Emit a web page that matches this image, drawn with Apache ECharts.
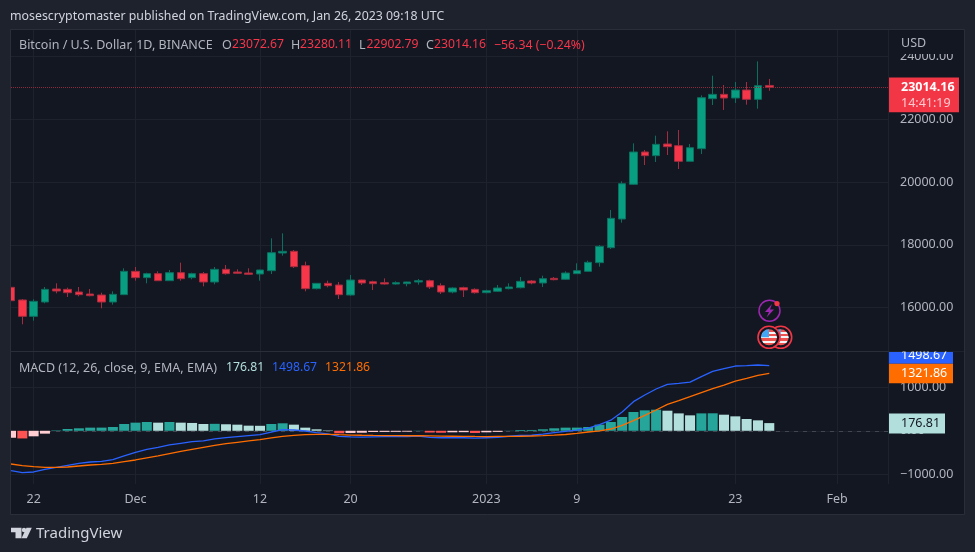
<!DOCTYPE html>
<html>
<head>
<meta charset="utf-8">
<style>
  html, body { margin: 0; padding: 0; background: #1e222d; }
  #chart { width: 975px; height: 552px; }
</style>
<script src="https://cdn.jsdelivr.net/npm/echarts@6/dist/echarts.min.js"></script>
</head>
<body>
<div id="chart"></div>
<script>
// one row per month: Nov 20-30, Dec 1-31, Jan 1-26
const opens = [
  16648,16245,15725,16181,16595,16584,16500,16436,16404,16181,16415,
  17157,16956,17083,16860,17115,16956,17083,16818,17221,17136,17104,17072,17178,17741,17794,17338,16606,16775,16722,16404,16881,16828,16797,16754,16765,16818,16860,16701,16500,16637,16584,
  16478,16521,16606,16637,16850,16786,16934,16903,17083,17157,17433,17910,18822,19926,20955,20838,21209,21156,20658,21061,22652,22789,22673,22927,22630,23072.67];
const closes = [
  16224,15725,16203,16584,16531,16478,16415,16383,16181,16425,17157,
  16956,17083,16860,17115,16924,17083,16818,17221,17083,17094,17062,17200,17751,17794,17306,16606,16775,16701,16415,16881,16786,16765,16754,16797,16818,16860,16659,16500,16627,16563,16478,
  16542,16627,16659,16839,16786,16924,16892,17104,17178,17444,17953,18844,19947,20955,20838,21199,21124,20658,21092,22684,22789,22673,22927,22630,23065,23014.16];
const highs = [
  16701,16277,16266,16659,16775,16637,16659,16595,16478,16521,17253,
  17295,17114,17157,17200,17433,17114,17136,17295,17359,17221,17253,17210,18207,18366,17836,17465,16785,16860,16818,17041,16892,16860,16934,16839,16825,16913,16892,16775,16648,16669,16616,
  16574,16722,16775,16977,16881,17019,16977,17157,17412,17497,17995,19109,20021,21230,21018,21474,21612,21654,21209,22757,23383,23086,23182,23182,23839,23280.11];
const lows = [
  16128,15471,15587,16139,16457,16340,16362,16362,15980,16097,16400,
  16860,16775,16850,16850,16860,16903,16680,16744,17051,17072,17051,16860,17072,17656,17263,16521,16584,16648,16277,16383,16722,16563,16733,16733,16680,16733,16595,16436,16457,16340,16447,
  16457,16500,16584,16616,16744,16659,16871,16881,17075,17136,17306,17868,18706,19904,20541,20636,20859,20414,20650,20891,22450,22292,22514,22461,22333,22902.79];
const histogram = [
  -160,-176,-127,-66,10,41,57,72,73,87,156,
  187,202,187,202,187,180,156,160,150,141,118,115,156,172,141,72,34,10,-58,-50,-45,-28,-26,-24,-20,5,-40,-45,-35,-32,-50,
  -35,-25,4,18,19,34,57,72,73,87,141,202,317,432,470,485,462,400,355,400,402,370,332,271,240,176.81];
const macdLine = [
  -916,-962,-947,-885,-839,-793,-747,-717,-702,-663,-579,
  -495,-426,-380,-326,-288,-250,-234,-188,-158,-135,-112,-89,-28,26,18,-5,-43,-70,-130,-140,-145,-138,-136,-136,-134,-120,-150,-160,-160,-160,-170,
  -160,-150,-125,-108,-102,-78,-43,-13,14,59,141,243,432,669,822,960,1068,1090,1120,1244,1366,1428,1489,1497,1512,1498.67];
const signalLine = [
  -763,-801,-824,-839,-839,-832,-809,-786,-771,-747,-709,
  -671,-625,-579,-525,-472,-426,-380,-334,-296,-265,-234,-204,-165,-127,-104,-89,-81,-81,-90,-98,-103,-107,-110,-112,-114,-114,-118,-122,-125,-127,-130,
  -132,-130,-128,-125,-120,-112,-100,-85,-58,-28,0,41,126,233,355,478,608,693,784,876,968,1052,1144,1205,1275,1321.86];

const priceTicks = [16000, 18000, 20000, 22000, 24000];
const macdTicks = [-1000, 0, 1000];
// x is days since Nov 20 2022
const dateTickDays = [2, 11, 22, 30, 42, 50, 64, 73];
const dateTickLabels = ['22', 'Dec', '12', '20', '2023', '9', '23', 'Feb'];
const lastPrice = 23014.16, lastHist = 176.81, lastMacd = 1498.67, lastSignal = 1321.86;

const days = opens.map((_, i) => i);

const FONT = '"Noto Sans", sans-serif';
const PANE = '#131722', FRAME = '#1e222d', GRID = '#1e222c', LABEL = '#b2b5be';
const UP = '#089e82', DOWN = '#f7364a';

function histColor(v, i) {
  const rising = i === 0 || v >= histogram[i - 1];
  if (v >= 0) return rising ? '#26a69a' : '#b2dfdb';
  return rising ? '#ffcdd2' : '#ff5252';
}

function xAxisFor(gridIndex, showLabels) {
  return {
    type: 'value', gridIndex,
    min: 0, max: 77.49,
    axisLine: { show: false },
    axisTick: { show: false, customValues: dateTickDays },
    splitLine: { show: true, lineStyle: { color: GRID, width: 1 } },
    axisLabel: {
      show: showLabels, customValues: dateTickDays, margin: 9,
      color: LABEL, fontFamily: FONT, fontSize: 12.5,
      formatter: v => dateTickLabels[dateTickDays.indexOf(v)]
    }
  };
}

function yAxisFor(gridIndex, min, max, ticks) {
  return {
    type: 'value', gridIndex, position: 'right', min, max,
    axisLine: { show: false },
    axisTick: { show: false, customValues: ticks },
    splitLine: { show: true, lineStyle: { color: GRID, width: 1 } },
    axisLabel: {
      customValues: ticks, margin: 12,
      color: LABEL, fontFamily: FONT, fontSize: 12.5,
      formatter: v => (v < 0 ? '\u2212' : '') + Math.abs(v).toFixed(2)
    }
  };
}

function label(x, y, text, fill, size, extra) {
  return { type: 'text', x, y, z: 60, silent: true,
    style: Object.assign({ text, fill, font: (size || 12.5) + 'px ' + FONT, verticalAlign: 'middle' }, extra) };
}

function box(x, y, width, height, fill, z) {
  return { type: 'rect', z: z === undefined ? 55 : z, silent: true, shape: { x, y, width, height }, style: { fill } };
}

function flag(cx, cy, z) {
  const stripes = [];
  for (let i = 0; i < 7; i++) {
    stripes.push({ offset: i / 7, color: i % 2 ? '#f5f5f5' : '#ef5350' }, { offset: (i + 1) / 7, color: i % 2 ? '#f5f5f5' : '#ef5350' });
  }
  return [
    { type: 'circle', z, silent: true, shape: { cx, cy, r: 11 }, style: { fill: PANE, stroke: '#f23645', lineWidth: 1.6 } },
    { type: 'circle', z, silent: true, shape: { cx, cy, r: 8 },
      style: { fill: new echarts.graphic.LinearGradient(0, 0, 0, 1, stripes) } },
    { type: 'sector', z, silent: true, shape: { cx, cy, r: 8, r0: 0, startAngle: Math.PI, endAngle: Math.PI * 1.5 }, style: { fill: '#42a5f5' } }
  ];
}

const chart = echarts.init(document.getElementById('chart'), null, { renderer: 'canvas' });

chart.setOption({
  animation: false,
  backgroundColor: FRAME,
  grid: [
    { left: 11, width: 877, top: 30, height: 321, show: true, backgroundColor: PANE, borderWidth: 0 },
    { left: 11, width: 877, top: 352, height: 132, show: true, backgroundColor: PANE, borderWidth: 0 }
  ],
  xAxis: [xAxisFor(0, false), xAxisFor(1, true)],
  yAxis: [yAxisFor(0, 14622, 24837, priceTicks), yAxisFor(1, -1223, 1811, macdTicks)],
  series: [
    {
      type: 'candlestick', xAxisIndex: 0, yAxisIndex: 0, barWidth: 8,
      data: days.map((d, i) => [d, opens[i], closes[i], lows[i], highs[i]]),
      itemStyle: { color: UP, color0: DOWN, borderColor: '#0b6f5f', borderColor0: '#a52c3e', borderWidth: 1 },
      markLine: {
        silent: true, symbol: 'none', label: { show: false },
        lineStyle: { color: '#8e2b3a', type: 'dotted', width: 1 },
        data: [{ yAxis: lastPrice }]
      }
    },
    {
      type: 'bar', xAxisIndex: 1, yAxisIndex: 1, barWidth: 10,
      data: histogram.map((v, i) => ({ value: [days[i], v], itemStyle: { color: histColor(v, i) } })),
      markLine: {
        silent: true, symbol: 'none', label: { show: false }, z: 1,
        lineStyle: { color: '#434651', type: [4, 5], width: 1 },
        data: [{ yAxis: 0 }]
      }
    },
    {
      type: 'line', xAxisIndex: 1, yAxisIndex: 1, showSymbol: false, z: 4,
      lineStyle: { color: '#2962ff', width: 1.3 },
      data: macdLine.map((v, i) => [days[i], v])
    },
    {
      type: 'line', xAxisIndex: 1, yAxisIndex: 1, showSymbol: false, z: 5,
      lineStyle: { color: '#ff6d00', width: 1.3 },
      data: signalLine.map((v, i) => [days[i], v])
    }
  ]
});

// badges sit on the axis scales, so read their position back from the chart
const yPrice = v => chart.convertToPixel({ yAxisIndex: 0 }, v);
const yMacd = v => chart.convertToPixel({ yAxisIndex: 1 }, v);
const priceY = yPrice(lastPrice), histY = yMacd(lastHist), signalY = yMacd(lastSignal);

chart.setOption({
  graphic: [].concat(
    [
      // panes and frame; the left strip cuts the first candle and bar in half
      box(889, 30, 75, 484, PANE, -1),
      box(11, 484, 878, 30, PANE, -1),
      box(0, 0, 10.5, 552, FRAME, 50),
      { type: 'rect', z: 56, silent: true, shape: { x: 10.5, y: 29.5, width: 954, height: 485 }, style: { fill: 'none', stroke: '#2a2e39', lineWidth: 1 } },
      { type: 'line', z: 56, silent: true, shape: { x1: 11, y1: 351.5, x2: 964, y2: 351.5 }, style: { stroke: '#2a2e39', lineWidth: 1 } },

      // header
      label(10, 16, 'mosescryptomaster published on TradingView.com, Jan 26, 2023 09:18 UTC', '#d1d4dc', 12.35),

      // price legend
      label(19, 45, 'Bitcoin / U.S. Dollar, 1D, BINANCE', LABEL),
      label(222, 45, 'O', LABEL), label(232, 45, '23072.67', DOWN, 12.2),
      label(291, 45, 'H', LABEL), label(300, 45, '23280.11', DOWN, 12.2),
      label(359, 45, 'L', LABEL), label(366.5, 45, '22902.79', DOWN, 12.2),
      label(426, 45, 'C', LABEL), label(434, 45, '23014.16', DOWN, 12.2),
      label(494, 45, '\u221256.34 (\u22120.24%)', DOWN, 12.3),

      // macd legend
      label(19, 368, 'MACD (12, 26, close, 9, EMA, EMA)', LABEL),
      label(226, 368, '176.81', '#b2dfdb', 12.2),
      label(272, 368, '1498.67', '#2962ff', 12.2),
      label(325, 368, '1321.86', '#ff6d00', 12.2),

      // USD corner hides the top of the 24000 label
      box(889, 30.5, 74, 23.5, PANE),
      label(901, 43, 'USD', LABEL),

      // last price badges
      box(889, priceY - 9.7, 70, 34.6, '#f23645'),
      label(901, priceY, '23014.16', '#ffffff', 12.5, { font: 'bold 12.5px ' + FONT }),
      label(901, priceY + 16, '14:41:19', '#ffc9cf'),

      box(889, signalY - 27.5, 64, 18, '#2962ff'),
      label(901, signalY - 18, lastMacd.toFixed(2), '#ffffff'),
      box(889, 338, 75, 13.5, PANE, 61),
      box(889, signalY - 9.5, 64, 19.5, '#ff6d00'),
      label(901, signalY, lastSignal.toFixed(2), '#ffffff'),

      box(889, histY - 9.5, 56, 20, '#b2dfdb'),
      label(901, histY + 0.5, lastHist.toFixed(2), '#131722'),

      // event icons
      { type: 'circle', z: 55, silent: true, shape: { cx: 769.5, cy: 310.7, r: 10.5 }, style: { fill: PANE, stroke: '#9c27b0', lineWidth: 1.5 } },
      { type: 'polygon', z: 55, silent: true, shape: { points: [[772, 304], [765, 312], [769, 312], [766.5, 317.5], [774, 309.5], [770, 309.5]] }, style: { fill: '#9c27b0' } },
      { type: 'circle', z: 56, silent: true, shape: { cx: 777, cy: 303.6, r: 2.6 }, style: { fill: '#f23645' } }
    ],
    flag(780.7, 337.3, 55),
    flag(769, 337.3, 56),
    [
      // logo
      { type: 'polygon', z: 55, silent: true, shape: { points: [[11, 527.8], [21.5, 527.8], [21.5, 538.2], [15.5, 538.2], [15.5, 532.2], [11, 532.2]] }, style: { fill: '#d1d4dc' } },
      { type: 'circle', z: 55, silent: true, shape: { cx: 24, cy: 530, r: 2.2 }, style: { fill: '#d1d4dc' } },
      { type: 'polygon', z: 55, silent: true, shape: { points: [[26.5, 527.8], [31.8, 527.8], [26.8, 538.2], [21.5, 538.2]] }, style: { fill: '#d1d4dc' } },
      label(36, 534, 'TradingView', '#d1d4dc', 15)
    ]
  )
});
</script>
</body>
</html>
